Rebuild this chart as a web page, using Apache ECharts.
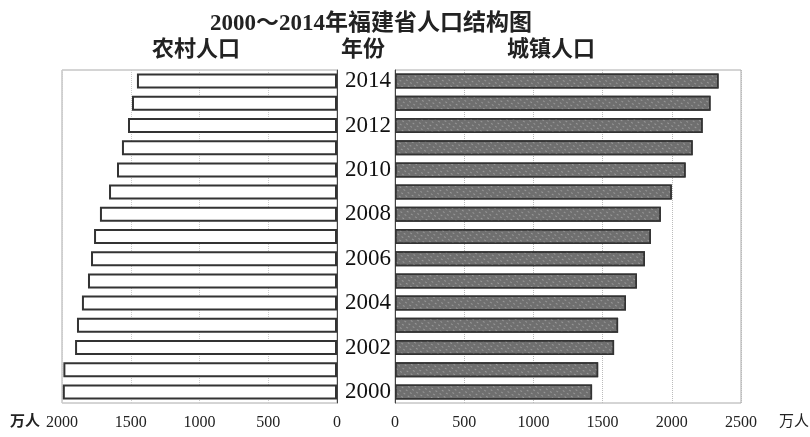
<!DOCTYPE html>
<html><head><meta charset="utf-8">
<script src="https://cdn.jsdelivr.net/npm/echarts@6/dist/echarts.min.js"></script>
<style>html,body{margin:0;padding:0;background:#fff}#c{width:810px;height:437px}</style>
</head><body><div id="c"></div>
<script>
var years = ['2000','2001','2002','2003','2004','2005','2006','2007','2008','2009','2010','2011','2012','2013','2014'];
var rural = [1994, 1990, 1905, 1891, 1855, 1811, 1789, 1767, 1724, 1658, 1600, 1564, 1520, 1491, 1455];
var urban = [1424, 1468, 1583, 1612, 1669, 1748, 1806, 1849, 1921, 2000, 2100, 2151, 2223, 2280, 2338];
var ruralTicks = [0, 500, 1000, 1500, 2000];
var urbanTicks = [0, 500, 1000, 1500, 2000, 2500];
var title = '2000～2014年福建省人口结构图';
var ruralName = '农村人口', yearName = '年份', urbanName = '城镇人口', unit = '万人';

var FONT = "'Liberation Serif','Noto Sans CJK SC',serif";
var chart = echarts.init(document.getElementById('c'));
var tickLabel = {color:'#222', fontFamily:FONT, fontSize:16, margin:12, formatter:function(v){return String(v);}};
chart.setOption({
  animation:false,
  backgroundColor:'#fff',
  title:[
    {text:title, left:205, top:8, textStyle:{fontFamily:FONT, fontSize:23, fontWeight:'bold', color:'#222'}}
  ],
  graphic:[
    {type:'text', left:152, top:39, style:{text:ruralName, font:"bold 22px "+FONT, fill:'#222'}},
    {type:'text', left:341, top:39, style:{text:yearName, font:"bold 22px "+FONT, fill:'#222'}},
    {type:'text', left:507, top:39, style:{text:urbanName, font:"bold 22px "+FONT, fill:'#222'}},
    {type:'text', left:10, top:415, style:{text:unit, font:"bold 15px "+FONT, fill:'#222'}},
    {type:'text', left:779, top:415, style:{text:unit, font:"15px "+FONT, fill:'#222'}}
  ],
  grid:[
    {left:62, right:810-337, top:70, bottom:34, show:true, borderColor:'#aaa', borderWidth:1},
    {left:395, right:810-741, top:70, bottom:34, show:true, borderColor:'#aaa', borderWidth:1}
  ],
  xAxis:[
    {gridIndex:0, type:'value', inverse:true, min:ruralTicks[0], max:ruralTicks[ruralTicks.length-1], interval:500,
     axisLine:{show:false}, axisTick:{show:false}, axisLabel:tickLabel,
     splitLine:{show:true, lineStyle:{color:'#ccc', type:'dotted'}}},
    {gridIndex:1, type:'value', min:urbanTicks[0], max:urbanTicks[urbanTicks.length-1], interval:500,
     axisLine:{show:false}, axisTick:{show:false}, axisLabel:tickLabel,
     splitLine:{show:true, lineStyle:{color:'#bbb', type:'dotted'}}}
  ],
  yAxis:[
    {gridIndex:0, type:'category', data:years, position:'right', axisLabel:{show:false}, axisTick:{show:false},
     axisLine:{show:true, lineStyle:{color:'#444', width:1}}},
    {gridIndex:1, type:'category', data:years, position:'left', axisTick:{show:false},
     axisLine:{show:true, lineStyle:{color:'#444', width:1}},
     axisLabel:{interval:1, margin:4, color:'#111', fontFamily:FONT, fontSize:23}}
  ],
  series:[
    {type:'bar', xAxisIndex:0, yAxisIndex:0, data:rural, barWidth:15,
     itemStyle:{color:'#fff', borderColor:'#333', borderWidth:2}},
    {type:'bar', xAxisIndex:1, yAxisIndex:1, data:urban, barWidth:15,
     itemStyle:{color:'#6f6f6f', borderColor:'#333', borderWidth:1.5,
       decal:{symbol:'rect', symbolSize:1, dashArrayX:[2,3], dashArrayY:[1,3], color:'rgba(255,255,255,0.28)', rotation:0.6}}}
  ]
});
</script></body></html>
